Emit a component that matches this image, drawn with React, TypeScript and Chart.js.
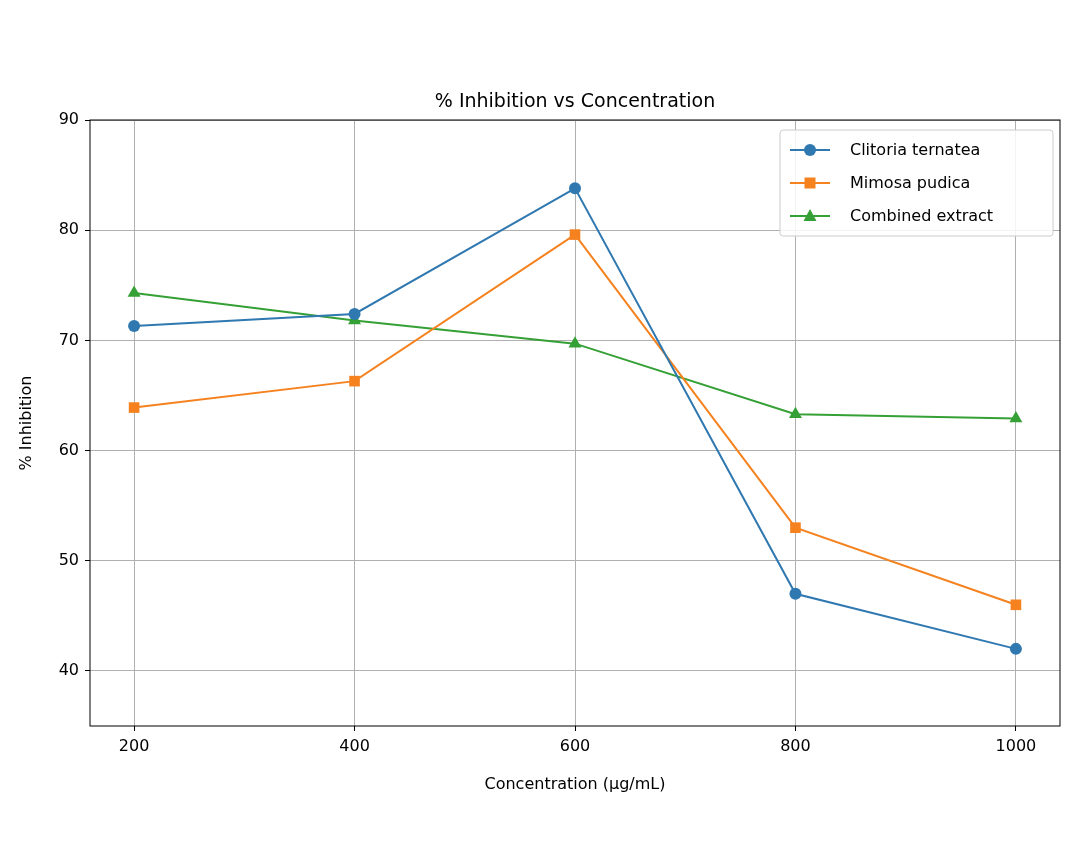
import React, { useEffect, useRef } from "react";
import { Chart, registerables } from "chart.js";
Chart.register(...registerables);

const concentrations = [200, 400, 600, 800, 1000];
const clitoria = [71.3, 72.4, 83.8, 47.0, 42.0];
const mimosa = [63.9, 66.3, 79.6, 53.0, 46.0];
const combined = [74.3, 71.8, 69.7, 63.3, 62.9];
const yTicks = [40, 50, 60, 70, 80, 90];
const seriesNames = ["Clitoria ternatea", "Mimosa pudica", "Combined extract"];
const colors = ["#2f78b0", "#f5821f", "#35a035"];
const styles = ["circle", "rect", "triangle"] as const;
const FONT = "DejaVu Sans";

export default function App() {
  const ref = useRef<HTMLCanvasElement>(null);
  useEffect(() => {
    document.body.style.margin = "0";
    const mk = (d: number[], i: number) => ({
      label: seriesNames[i],
      data: d.map((y, k) => ({ x: concentrations[k], y })),
      borderColor: colors[i],
      backgroundColor: colors[i],
      borderWidth: 2,
      pointStyle: styles[i],
      pointRadius: i === 0 ? 6 : 7.5,
      pointBorderWidth: 0,
    });
    const overlay = {
      id: "overlay",
      afterDraw(chart: any) {
        const ctx = chart.ctx;
        const a = chart.chartArea;
        ctx.save();
        ctx.fillStyle = "#000";
        ctx.font = `19px ${FONT}`;
        ctx.textAlign = "center";
        ctx.textBaseline = "alphabetic";
        ctx.fillText("% Inhibition vs Concentration", (a.left + a.right) / 2, 107);
        ctx.font = `16px ${FONT}`;
        ctx.fillText("Concentration (µg/mL)", (a.left + a.right) / 2, 789);
        ctx.save();
        ctx.translate(31, (a.top + a.bottom) / 2);
        ctx.rotate(-Math.PI / 2);
        ctx.fillText("% Inhibition", 0, 0);
        ctx.restore();
        ctx.strokeStyle = "#000";
        ctx.lineWidth = 1;
        ctx.strokeRect(a.left, a.top, a.right - a.left, a.bottom - a.top);
        const lx = 780, ly = 130, lw = 273, lh = 106;
        ctx.fillStyle = "rgba(255,255,255,0.85)";
        ctx.strokeStyle = "#ccc";
        ctx.beginPath();
        ctx.roundRect(lx, ly, lw, lh, 3);
        ctx.fill();
        ctx.stroke();
        ctx.font = `16px ${FONT}`;
        ctx.textAlign = "left";
        ctx.textBaseline = "middle";
        seriesNames.forEach((n, i) => {
          const y = ly + 20 + i * 33;
          ctx.strokeStyle = colors[i];
          ctx.lineWidth = 2;
          ctx.beginPath();
          ctx.moveTo(lx + 10, y);
          ctx.lineTo(lx + 50, y);
          ctx.stroke();
          ctx.fillStyle = colors[i];
          const cx = lx + 30;
          ctx.beginPath();
          if (i === 0) ctx.arc(cx, y, 6, 0, Math.PI * 2);
          else if (i === 1) ctx.rect(cx - 5.5, y - 5.5, 11, 11);
          else { ctx.moveTo(cx, y - 7); ctx.lineTo(cx + 6.5, y + 5); ctx.lineTo(cx - 6.5, y + 5); ctx.closePath(); }
          ctx.fill();
          ctx.fillStyle = "#000";
          ctx.fillText(n, lx + 70, y + 1);
        });
        ctx.restore();
      },
    };
    const chart = new Chart(ref.current!, {
      type: "line",
      data: { datasets: [mk(clitoria, 0), mk(mimosa, 1), mk(combined, 2)] },
      options: {
        animation: false,
        responsive: false,
        layout: { padding: { top: 120, right: 20, left: 0, bottom: 0 } },
        plugins: { legend: { display: false }, title: { display: false }, tooltip: { enabled: false } },
        scales: {
          x: {
            type: "linear",
            min: 160,
            max: 1040,
            afterBuildTicks: (s: any) => { s.ticks = concentrations.map((v) => ({ value: v })); },
            ticks: { color: "#000", font: { family: FONT, size: 16 }, padding: 6, callback: (v: any) => String(v) },
            grid: { color: "#b0b0b0", tickLength: 5, tickColor: "#000" },
            border: { display: false },
            afterFit: (s: any) => { s.height = 138; },
          },
          y: {
            min: 35,
            max: 90,
            afterBuildTicks: (s: any) => { s.ticks = yTicks.map((v) => ({ value: v })); },
            ticks: { color: "#000", font: { family: FONT, size: 16 }, padding: 6 },
            grid: { color: "#b0b0b0", tickLength: 5, tickColor: "#000" },
            border: { display: false },
            afterFit: (s: any) => { s.width = 90; },
          },
        },
      },
      plugins: [overlay],
    } as any);
    return () => chart.destroy();
  }, []);
  return <canvas ref={ref} width={1080} height={864} style={{ display: "block" }} />;
}
